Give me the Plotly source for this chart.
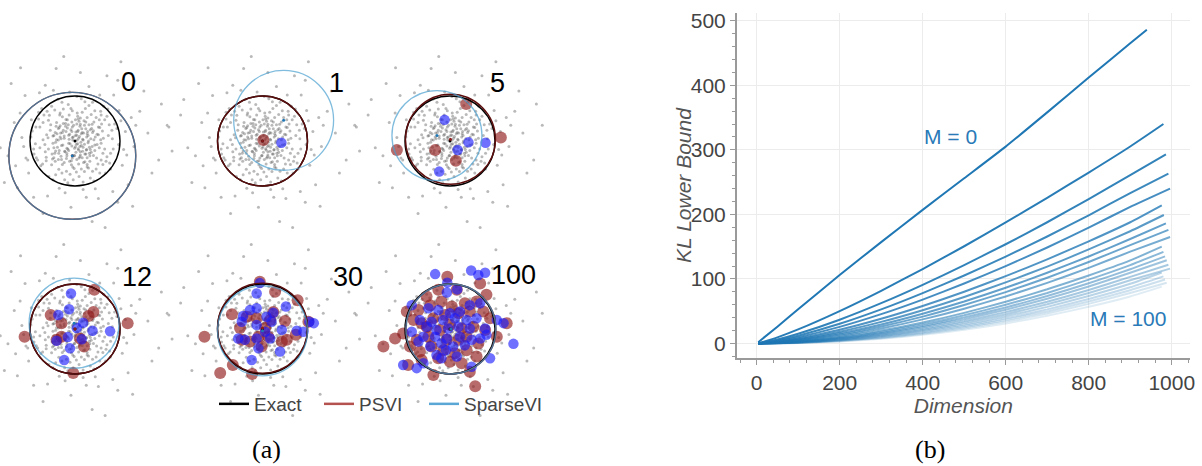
import plotly.graph_objects as go

# ---------------- (a) data : coreset snapshots ----------------
ITERATIONS = [0, 1, 5, 12, 30, 100]

# background data cloud (units: exact posterior radius = 1)
CLOUD = [
    (0.05, 0.02), (-0.21, 0.33), (0.38, -0.12), (-0.45, -0.27), (0.12, 0.51), (-0.08, -0.44), (0.61, 0.22),
    (-0.63, 0.14), (0.27, -0.58), (-0.33, 0.62), (0.71, -0.35), (-0.72, -0.51), (0.44, 0.67), (-0.15, 0.81),
    (0.09, -0.79), (0.83, 0.05), (-0.88, -0.06), (0.55, -0.71), (-0.52, 0.77), (0.19, 0.18), (-0.27, -0.09),
    (0.31, 0.36), (-0.41, 0.41), (0.02, -0.25), (0.48, -0.38), (-0.59, -0.18), (0.16, -0.37), (-0.12, 0.15),
    (0.66, 0.47), (-0.78, 0.31), (0.35, 0.05), (-0.36, -0.63), (0.23, 0.72), (-0.69, 0.58), (0.79, -0.62),
    (-0.23, -0.86), (0.57, 0.03), (-0.47, 0.12), (0.04, 0.38), (-0.02, -0.61), (0.93, 0.28), (-0.95, 0.22),
    (0.14, 0.94), (-0.31, -0.34), (0.42, -0.89), (-0.83, -0.42), (0.73, 0.71), (-0.58, -0.79), (0.26, -0.19),
    (-0.17, 0.47), (0.52, 0.31), (-0.06, 0.67), (0.85, -0.18), (-0.91, -0.29), (0.33, -0.45), (-0.44, -0.45),
    (0.11, -0.12), (-0.14, -0.21), (0.62, -0.52), (-0.71, 0.03), (0.39, 0.86), (-0.38, 0.93), (0.07, 0.24),
    (-0.26, 0.24), (0.47, 0.52), (-0.54, 0.36), (0.21, -0.68), (-0.11, -0.74), (0.76, 0.36), (-0.81, 0.64),
    (1.12, 0.21), (-1.18, 0.08), (0.31, 1.21), (-0.22, -1.15), (1.05, -0.54), (-1.03, -0.71), (0.86, 1.02),
    (-0.79, 1.07), (1.31, -0.12), (-1.35, 0.41), (0.52, -1.28), (-0.61, -1.22), (1.44, 0.66), (-1.49, -0.33),
    (0.12, 1.52), (-0.09, -1.47), (1.18, -0.97), (-1.11, 1.01), (1.62, 0.18), (-1.66, -0.15), (0.71, 1.45),
    (-0.42, 1.61), (0.95, -1.36), (-1.28, -1.04), (1.86, -0.42), (-1.82, 0.58), (0.38, -1.79), (-0.25, 1.88),
    (1.53, 1.11), (-1.57, -0.92), (2.05, 0.35), (-2.01, -0.22), (1.02, 1.76), (-1.21, 1.63), (0.67, -1.92),
    (1.25, 0.52), (-1.09, -0.38), (0.98, 0.68), (-0.97, 0.47), (0.45, -1.06), (-0.48, 1.13), (1.08, -0.19),
    (-1.14, -0.12), (0.18, -1.08), (-0.12, 1.09), (0.13, -0.03), (-0.04, 0.09), (0.22, -0.29), (-0.31, 0.05),
    (0.29, 0.12), (-0.19, -0.39), (0.08, -0.51), (-0.49, -0.05), (0.41, 0.23), (-0.06, 0.31), (0.17, 0.04),
    (-0.11, -0.06), (0.36, -0.25), (-0.37, 0.28), (0.01, 0.12), (0.24, 0.42), (-0.28, -0.52), (0.54, -0.15),
    (-0.64, -0.36), (0.58, 0.58),
    (0.15, 0.27), (-0.24, 0.11), (0.33, -0.33), (-0.39, -0.14), (0.09, 0.44), (-0.02, -0.33), (0.52, 0.14),
    (-0.55, 0.24), (0.19, -0.48), (-0.28, 0.54), (0.62, -0.27), (-0.64, -0.44), (0.36, 0.59), (-0.09, 0.72),
    (0.03, -0.69), (0.74, 0.12), (-0.78, -0.15), (0.47, -0.62), (-0.45, 0.69), (0.26, 0.09), (-0.18, -0.16),
    (0.42, 0.42), (-0.33, 0.34), (0.07, -0.17), (0.58, -0.42), (-0.51, -0.29), (0.24, -0.29), (-0.07, 0.21),
    (0.71, 0.55), (-0.71, 0.41), (0.29, -0.04), (-0.29, -0.71), (0.16, 0.64), (-0.62, 0.66), (0.68, -0.71),
    (-0.16, -0.93), (0.49, -0.08), (-0.41, 0.03), (0.11, 0.33), (-0.08, -0.53), (0.88, 0.38), (-0.87, 0.31),
    (0.22, 0.87), (-0.37, -0.41), (0.34, -0.82), (-0.76, -0.55), (0.64, 0.77), (-0.49, -0.86), (0.32, -0.14),
    (-0.21, 0.39), (0.59, 0.38), (-0.13, 0.58), (0.79, -0.27), (-0.86, -0.37), (0.27, -0.52), (-0.52, -0.53),
    (0.03, -0.07), (-0.18, -0.28), (0.69, -0.45), (-0.67, -0.08), (0.31, 0.79), (-0.29, 0.86), (0.14, 0.16),
    (-0.32, 0.18), (0.54, 0.47), (-0.59, 0.46), (0.14, -0.62), (-0.19, -0.67), (0.82, 0.24), (-0.74, 0.72),
    (0.45, 0.09), (-0.44, 0.19), (0.06, 0.55), (-0.04, -0.86), (0.97, -0.08), (-0.98, 0.09), (0.04, 0.99),
    (-0.43, -0.75), (0.51, -0.51), (-0.92, -0.18), (0.18, -0.91), (0.37, 0.28), (-0.24, -0.48), (0.63, 0.06),
    (-0.57, 0.57), (0.01, 0.47), (0.21, -0.07), (-0.35, -0.21), (0.44, -0.21), (-0.15, 0.36), (0.09, -0.38),
    (0.77, -0.49), (-0.81, 0.49), (0.57, 0.66), (-0.26, 0.71), (0.12, -0.24), (-0.05, 0.02), (0.27, 0.52),
    (-0.47, -0.37), (0.39, -0.67),
    (1.02, 0.45), (-1.05, -0.42), (0.55, 1.02), (-0.35, -1.05), (1.15, -0.31), (-1.22, 0.62), (0.25, -1.25),
    (-0.66, 1.24), (1.35, 0.35), (-1.32, -0.55), (0.84, -1.12), (-0.92, -1.25), (1.71, -0.71), (-1.75, 0.92),
    (0.95, 1.35), (-1.42, 1.28), (1.28, -1.45), (-0.71, -1.61), (1.92, 0.82), (-2.08, 0.31),
    (0.08, 0.06), (-0.13, 0.04), (0.18, -0.14), (-0.22, -0.24), (0.06, 0.21), (-0.01, -0.16), (0.28, 0.21),
    (-0.33, 0.09), (0.12, -0.31), (-0.17, 0.29), (0.34, -0.19), (-0.36, -0.27), (0.21, 0.35), (-0.07, 0.42),
    (0.04, -0.41), (0.42, 0.03), (-0.43, -0.03), (0.27, -0.37), (-0.26, 0.39), (0.10, 0.10), (-0.14, -0.05),
    (0.16, 0.19), (-0.20, 0.21), (0.01, -0.13), (0.25, -0.20), (-0.30, -0.10), (0.08, -0.20), (-0.06, 0.08),
    (0.34, 0.25), (-0.40, 0.16), (0.18, 0.02), (-0.18, -0.33), (0.12, 0.37), (-0.35, 0.30), (0.41, -0.32),
    (-0.12, -0.45), (0.30, 0.00), (-0.24, 0.06), (0.02, 0.20), (-0.01, -0.32), (0.49, 0.15), (-0.49, 0.11),
    (0.07, 0.49), (-0.16, -0.18), (0.22, -0.46), (-0.43, -0.22), (0.38, 0.37), (-0.30, -0.41), (0.14, -0.10),
    (-0.09, 0.25), (0.27, 0.16), (-0.03, 0.35), (0.44, -0.09), (-0.47, -0.15), (0.17, -0.23), (-0.23, -0.23),
    (0.06, -0.06), (-0.07, -0.11), (0.32, -0.27), (-0.37, 0.02), (0.20, 0.45), (-0.20, 0.48), (0.04, 0.13),
    (-0.14, 0.13), (0.24, 0.27), (-0.28, 0.19), (0.11, -0.35), (-0.06, -0.38), (0.39, 0.19), (-0.42, 0.33),
    (0.58, -0.05), (-0.60, 0.07), (0.05, 0.62), (-0.05, -0.58), (0.55, 0.30), (-0.50, -0.40), (0.30, -0.60),
    (-0.34, 0.58), (0.66, -0.18), (-0.66, -0.24),
]

# fitted Gaussians (center x, center y, radius)
EXACT = [(0.0, 0.0, 1.0)] * 6
PSVI_FIT = [(-0.06, -0.33, 1.41), (0.0, 0.0, 1.0), (0.01, 0.04, 1.0),
            (0.0, 0.0, 1.0), (0.0, 0.02, 1.0), (0.02, 0.0, 1.0)]
SPARSEVI_FIT = [(-0.06, -0.33, 1.41), (0.47, 0.46, 1.11), (-0.29, 0.12, 1.0),
                (-0.02, 0.13, 1.0), (0.0, -0.04, 1.0), (0.02, 0.0, 1.0)]

# PSVI pseudo-points per snapshot
PSVI_PTS = [
    [],
    [(0.02, 0.02)],
    [(0.36, 0.82), (-1.18, -0.20), (-0.33, -0.20), (0.13, -0.44), (1.13, 0.08)],
    [(0.43, 0.87), (-1.12, -0.17), (1.17, 0.13), (-0.04, -0.98), (-0.54, 0.31), (-0.30, 0.13),
     (0.41, 0.38), (0.30, 0.29), (-0.30, -0.17), (0.11, -0.21), (0.20, -0.39), (-0.41, -0.24)],
    [(-0.06, 1.05), (0.28, 0.83), (0.78, 0.64), (-0.68, 0.33), (-1.29, -0.17), (-0.94, -0.98),
     (-0.66, -0.80), (-0.23, -1.00), (0.50, 0.18), (0.74, -0.13), (1.02, 0.16), (0.24, 0.38),
     (0.06, 0.02), (-0.09, -0.17), (0.13, -0.17), (-0.50, 0.02), (-0.35, 0.27), (0.43, -0.28),
     (0.54, -0.24), (-0.02, -0.39), (-0.28, -0.28), (-0.13, 0.24), (0.17, 0.20), (-0.46, -0.24)],
    [(-0.06, 1.16), (0.67, 1.01), (-0.52, 0.72), (-0.26, 0.87), (0.15, 0.87), (0.81, 0.76),
     (-0.96, 0.39), (-0.70, 0.42), (-0.44, 0.53), (-0.19, 0.61), (0.04, 0.50), (0.33, 0.57),
     (0.59, 0.61), (-0.81, 0.20), (-0.63, 0.13), (-0.37, 0.24), (-0.11, 0.31), (0.19, 0.35),
     (0.44, 0.39), (0.74, 0.39), (0.89, 0.24), (1.26, 0.13), (-1.22, -0.21), (-1.48, -0.39),
     (-1.04, -0.10), (-0.74, -0.24), (-0.48, -0.17), (-0.22, -0.02), (0.00, 0.09), (0.26, 0.01),
     (0.52, 0.05), (0.78, -0.02), (1.04, -0.17), (-0.89, -0.39), (-0.67, -0.50), (-0.41, -0.39),
     (-0.15, -0.47), (0.11, -0.54), (0.37, -0.47), (0.63, -0.32), (-0.93, -0.80), (-0.63, -0.69),
     (-0.37, -1.02), (0.00, -0.73), (0.26, -0.76), (0.59, -0.61), (0.44, -0.95), (0.56, -1.27),
     (-0.26, -0.65), (0.19, -0.24), (-0.07, -0.24), (-0.52, 0.05), (0.37, -0.17)],
]

# SparseVI selected points per snapshot
SPARSEVI_PTS = [
    [],
    [(0.42, -0.04)],
    [(-0.12, 0.47), (0.41, -0.03), (0.79, -0.04), (0.17, -0.20), (-0.24, -0.68)],
    [(-0.09, 0.79), (-0.13, 0.44), (-0.37, 0.31), (0.18, 0.14), (0.04, 0.02), (0.39, -0.04),
     (0.78, -0.05), (-0.16, -0.18), (0.15, -0.23), (-0.41, -0.26), (-0.11, -0.43), (-0.24, -0.69)],
    [(-0.06, 1.02), (-0.13, 0.79), (0.52, 0.50), (-0.13, 0.46), (-0.43, 0.29), (0.24, 0.36),
     (-0.46, 0.16), (0.20, 0.16), (-0.13, 0.09), (0.43, -0.02), (0.06, -0.06), (0.76, -0.04),
     (1.04, 0.16), (1.14, 0.13), (-0.54, -0.21), (-0.39, -0.24), (-0.13, -0.21), (0.17, -0.21),
     (-0.09, -0.43), (0.39, -0.50), (-0.24, -0.69), (0.91, -0.06), (0.09, 0.27), (-0.28, 0.42)],
    [(-0.33, 1.22), (0.47, 1.30), (0.63, 1.20), (0.78, 1.25), (-0.06, 1.03), (-0.07, 0.81),
     (0.16, 0.88), (-0.85, 0.53), (-0.48, 0.46), (-0.26, 0.42), (0.00, 0.35), (0.22, 0.39),
     (0.44, 0.53), (0.67, 0.57), (-0.67, 0.20), (-0.41, 0.16), (-0.15, 0.20), (0.11, 0.24),
     (0.37, 0.20), (0.59, 0.24), (1.04, 0.20), (1.19, 0.13), (-0.52, 0.05), (-0.30, -0.02),
     (-0.04, 0.01), (0.19, 0.05), (0.44, 0.01), (0.78, 0.01), (-0.85, -0.06), (-0.59, -0.17),
     (-0.33, -0.17), (-0.07, -0.21), (0.22, -0.17), (0.48, -0.24), (0.67, -0.21), (-0.70, -0.28),
     (-0.44, -0.39), (-0.19, -0.32), (0.07, -0.39), (0.33, -0.36), (0.81, -0.13), (-0.09, -0.47),
     (-0.30, -0.58), (0.15, -0.61), (-0.59, -0.76), (-0.19, -0.65), (-1.04, -0.80), (-0.74, -0.87),
     (0.48, -0.84), (1.41, -0.33), (0.89, -0.65)],
]

# ---------------- (b) data : KL lower bound vs dimension ----------------
M_VALUES = [0, 5, 10, 15, 20, 25, 30, 35, 40, 45, 50, 55, 60, 65, 70, 75, 80, 85, 90, 95, 100]
DIM_GRID = [4, 50, 100, 200, 300, 400, 500, 600, 700, 800, 900]
END_DIM = [940, 980, 986, 992, 996, 976, 981, 986, 992, 996, 976,
           980, 984, 988, 992, 996, 976, 980, 984, 988, 976]
KL_BOUND = [
    [2, 26, 53, 106, 157, 207, 256, 305, 358, 412, 465, 486],
    [0, 9.5, 21.8, 50.2, 81.6, 115.3, 150.6, 187.5, 225.6, 264.8, 305.2, 340],
    [0, 6.1, 15.0, 36.8, 62.4, 90.8, 121.4, 153.7, 187.8, 223.6, 260.7, 293],
    [0, 4.7, 12.0, 30.5, 52.8, 78.0, 105.3, 134.6, 165.7, 198.6, 232.9, 263],
    [0, 3.7, 9.7, 25.7, 45.4, 68.0, 92.9, 119.9, 148.7, 179.4, 211.6, 240],
    [0, 2.8, 7.7, 21.2, 38.2, 58.0, 80.1, 104.3, 130.3, 158.2, 187.8, 214],
    [0, 2.3, 6.4, 18.2, 33.4, 51.5, 72.0, 94.6, 119.1, 145.7, 173.9, 199],
    [0, 1.8, 5.4, 15.7, 29.4, 46.0, 65.0, 86.2, 109.5, 134.8, 161.8, 186],
    [0, 1.5, 4.5, 13.7, 26.3, 41.6, 59.5, 79.6, 101.9, 126.2, 152.4, 176],
    [0, 1.2, 3.8, 11.9, 23.2, 37.3, 53.9, 72.8, 93.9, 117.1, 142.2, 165],
    [0, 0.9, 3.1, 10.0, 19.9, 32.4, 47.4, 64.6, 83.9, 105.3, 128.7, 150],
    [0, 0.8, 2.7, 8.8, 17.9, 29.6, 43.6, 59.9, 78.3, 98.9, 121.4, 142],
    [0, 0.7, 2.3, 7.9, 16.3, 27.1, 40.4, 55.8, 73.4, 93.2, 115.0, 135],
    [0, 0.6, 2.0, 7.1, 14.8, 25.0, 37.6, 52.3, 69.3, 88.3, 109.5, 129],
    [0, 0.5, 1.7, 6.3, 13.4, 22.8, 34.6, 48.5, 64.6, 82.8, 103.2, 122],
    [0, 0.4, 1.5, 5.6, 12.1, 20.9, 32.0, 45.2, 60.6, 78.1, 97.8, 116],
    [0, 0.3, 1.3, 5.0, 11.0, 19.2, 29.5, 42.0, 56.7, 73.5, 92.4, 110],
    [0, 0.3, 1.1, 4.4, 9.9, 17.5, 27.2, 39.0, 52.8, 68.9, 87.0, 104],
    [0, 0.2, 1.0, 4.0, 9.0, 16.0, 25.2, 36.3, 49.6, 65.0, 82.5, 99],
    [0, 0.2, 0.8, 3.5, 8.1, 14.7, 23.3, 33.8, 46.5, 61.3, 78.1, 94],
    [0, 0.2, 0.7, 3.1, 7.2, 13.3, 21.2, 31.0, 42.9, 56.8, 72.8, 88],
]

LEGEND_NAMES = ["Exact", "PSVI", "SparseVI"]

# ---------------- layout constants ----------------
W, H = 1202, 466
SCALE = 45.0      # px per unit in the snapshot panels
HALF = 94.0       # half-size of a snapshot panel box (px)
CENTERS = [(75, 141), (262.5, 141), (450, 141), (75, 329), (262.5, 329), (450, 329)]
LABEL_POS = [(1.18, 1.31), (1.65, 1.29), (1.06, 1.28), (1.37, 1.16), (1.91, 1.16), (1.41, 1.2)]

C_EXACT = "#000000"
C_PSVI = "#5c0d0d"
C_SVI = "#4aa0d0"
C_RED_PT = "rgba(145,28,28,0.65)"
C_BLUE_PT = "rgba(25,25,255,0.62)"
C_LINE = (31, 119, 180)

fig = go.Figure()
shapes = []
annotations = []
layout_axes = {}

for i, it in enumerate(ITERATIONS):
    k = i + 2
    cx, cy = CENTERS[i]
    px0, px1 = max(cx - HALF, 0), cx + HALF
    py0, py1 = cy - HALF, cy + HALF
    layout_axes[f"xaxis{k}"] = dict(domain=[px0 / W, px1 / W],
                                    range=[(px0 - cx) / SCALE, (px1 - cx) / SCALE],
                                    visible=False, anchor=f"y{k}")
    layout_axes[f"yaxis{k}"] = dict(domain=[(H - py1) / H, (H - py0) / H],
                                    range=[(cy - py1) / SCALE, (cy - py0) / SCALE],
                                    visible=False, anchor=f"x{k}")
    xa, ya = f"x{k}", f"y{k}"

    fig.add_trace(go.Scatter(x=[p[0] for p in CLOUD], y=[p[1] for p in CLOUD], mode="markers",
                             marker=dict(size=3, color="rgba(80,80,80,0.40)"),
                             xaxis=xa, yaxis=ya, showlegend=False, cliponaxis=False, hoverinfo="skip"))
    if PSVI_PTS[i]:
        fig.add_trace(go.Scatter(x=[p[0] for p in PSVI_PTS[i]], y=[p[1] for p in PSVI_PTS[i]],
                                 mode="markers", marker=dict(size=12, color=C_RED_PT),
                                 xaxis=xa, yaxis=ya, showlegend=False, cliponaxis=False))
    if SPARSEVI_PTS[i]:
        fig.add_trace(go.Scatter(x=[p[0] for p in SPARSEVI_PTS[i]], y=[p[1] for p in SPARSEVI_PTS[i]],
                                 mode="markers", marker=dict(size=10.5, color=C_BLUE_PT),
                                 xaxis=xa, yaxis=ya, showlegend=False, cliponaxis=False))
    for fit, col in ((EXACT, C_EXACT), (PSVI_FIT, "#8b1a1a"), (SPARSEVI_FIT, "#1f77b4")):
        fig.add_trace(go.Scatter(x=[fit[i][0]], y=[fit[i][1]], mode="markers",
                                 marker=dict(size=3, color=col), xaxis=xa, yaxis=ya,
                                 showlegend=False, cliponaxis=False))
    for fit, col, wdt, op in ((EXACT, C_EXACT, 1.4, 1.0), (PSVI_FIT, C_PSVI, 1.4, 1.0),
                              (SPARSEVI_FIT, C_SVI, 1.3, 0.7)):
        fx, fy, r = fit[i]
        shapes.append(dict(type="circle", xref=xa, yref=ya, x0=fx - r, x1=fx + r,
                           y0=fy - r, y1=fy + r, line=dict(color=col, width=wdt),
                           opacity=op, layer="above"))
    annotations.append(dict(x=LABEL_POS[i][0], y=LABEL_POS[i][1], xref=xa, yref=ya, text=str(it),
                            showarrow=False, font=dict(size=27, color="black", family="Liberation Sans")))

# legend entries for panel (a)
for name, col, lg in zip(LEGEND_NAMES, ("#000000", "#b3524e", "#5aa7d6"), ("legend", "legend", "legend2")):
    fig.add_trace(go.Scatter(x=[None], y=[None], mode="lines", name=name, legend=lg,
                             line=dict(color=col, width=2.5), xaxis="x2", yaxis="y2"))

# ---------------- panel (b) ----------------
n = len(M_VALUES)
for j in reversed(range(n)):
    a = max(0.14, 1 - 0.043 * j)
    fig.add_trace(go.Scatter(x=DIM_GRID + [END_DIM[j]], y=KL_BOUND[j], mode="lines",
                             line=dict(color=f"rgba({C_LINE[0]},{C_LINE[1]},{C_LINE[2]},{a:.3f})",
                                       width=2, shape="spline", smoothing=0.5),
                             showlegend=False, xaxis="x", yaxis="y", name=f"M = {M_VALUES[j]}"))

annotations.append(dict(x=466, y=320, xref="x", yref="y", text=f"M = {M_VALUES[0]}", showarrow=False,
                        font=dict(size=21, color="#2a7ab8", family="Liberation Sans")))
annotations.append(dict(x=895, y=39, xref="x", yref="y", text=f"M = {M_VALUES[-1]}", showarrow=False,
                        font=dict(size=21, color="#2a7ab8", family="Liberation Sans")))
annotations.append(dict(x=683 / W, y=(H - 185) / H, xref="paper", yref="paper", text="<i>KL Lower Bound</i>",
                        textangle=-90, showarrow=False, xanchor="center", yanchor="middle",
                        font=dict(size=21, color="#555", family="Liberation Sans")))

annotations.append(dict(x=266 / W, y=(H - 449) / H, xref="paper", yref="paper", text="(a)",
                        xanchor="center", yanchor="middle",
                        showarrow=False, font=dict(size=26, color="black", family="Liberation Serif")))
annotations.append(dict(x=930 / W, y=(H - 449) / H, xref="paper", yref="paper", text="(b)",
                        xanchor="center", yanchor="middle",
                        showarrow=False, font=dict(size=26, color="black", family="Liberation Serif")))

axis_common = dict(showline=True, linecolor="#9a9a9a", linewidth=1.5, ticks="outside", ticklen=5,
                   tickcolor="#9a9a9a", tickwidth=1.2, showgrid=True, gridcolor="#ececec", gridwidth=1,
                   zeroline=False, tickfont=dict(size=21, color="#444", family="Liberation Sans"))

legend_common = dict(orientation="h", xanchor="left", yanchor="middle",
                     font=dict(size=19, color="#444", family="Liberation Sans"), itemwidth=30,
                     bgcolor="rgba(0,0,0,0)", traceorder="normal")

fig.update_layout(
    width=W, height=H, margin=dict(l=0, r=0, t=0, b=0, autoexpand=False),
    paper_bgcolor="white", plot_bgcolor="white",
    shapes=shapes, annotations=annotations,
    showlegend=True,
    legend=dict(x=214 / W, y=(H - 404) / H, entrywidth=60, entrywidthmode="pixels", **legend_common),
    legend2=dict(x=424 / W, y=(H - 404) / H, **legend_common),
    xaxis=dict(domain=[736.7 / W, 1190 / W], range=[-48, 1044], tickvals=[0, 200, 400, 600, 800, 1000],
               minor=dict(ticks="outside", dtick=40, tick0=0, ticklen=3, tickcolor="#9a9a9a", showgrid=False),
               title=dict(text="<i>Dimension</i>", font=dict(size=21, color="#555", family="Liberation Sans"),
                          standoff=0),
               anchor="y", automargin=False, **axis_common),
    yaxis=dict(domain=[(H - 358.3) / H, (H - 13) / H], range=[-23, 512], tickvals=[0, 100, 200, 300, 400, 500],
               minor=dict(ticks="outside", dtick=20, tick0=0, ticklen=3, tickcolor="#9a9a9a", showgrid=False),
               anchor="x", automargin=False, **axis_common),
    **layout_axes,
)

fig.write_html("out.html", config={"displayModeBar": False},
               post_script="document.body.style.margin='0px';")
